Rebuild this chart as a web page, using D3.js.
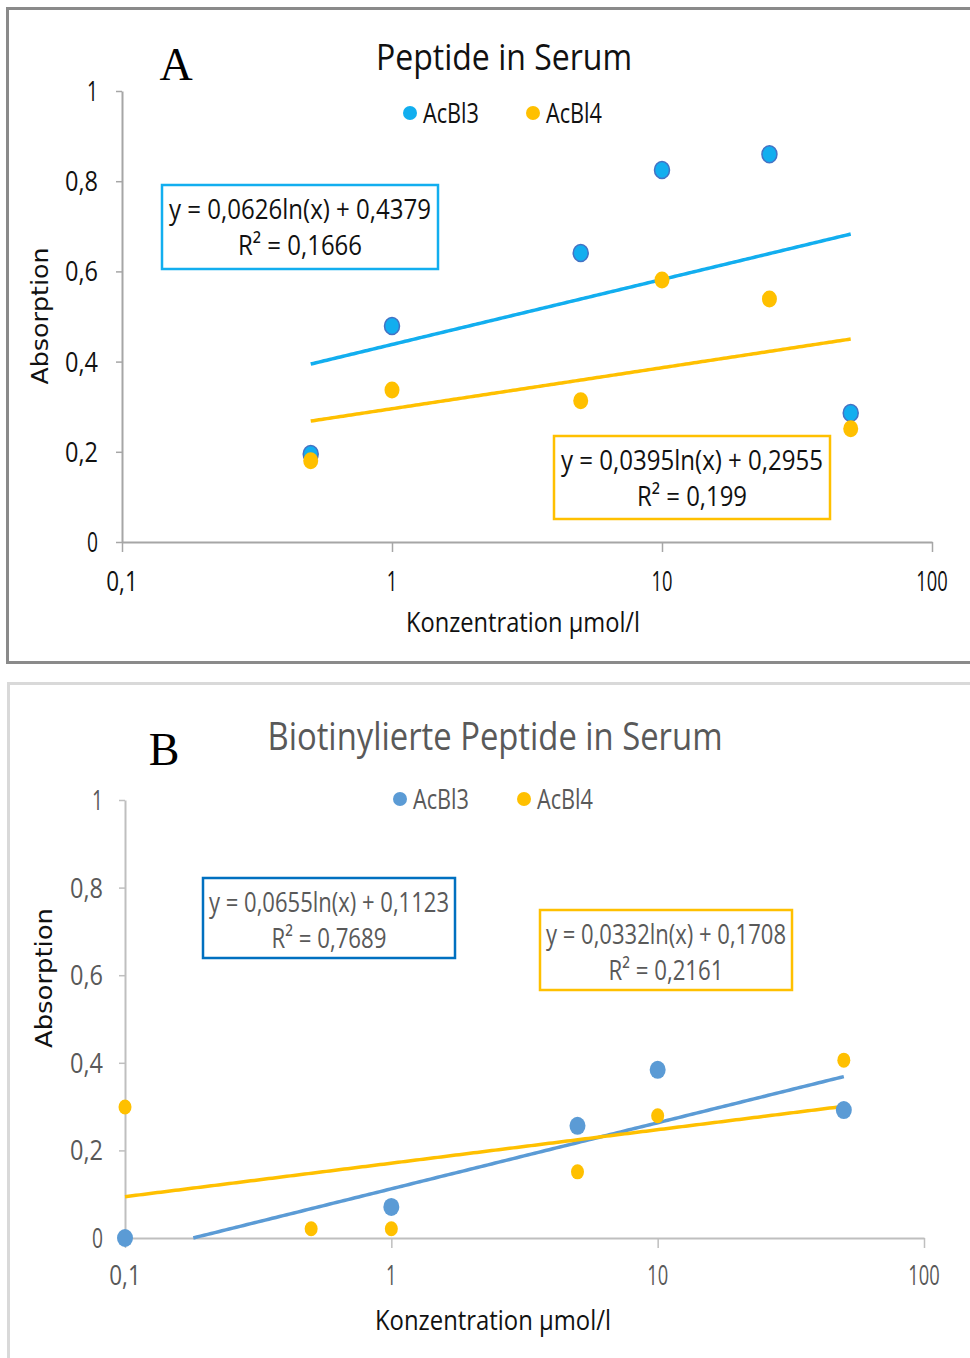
<!DOCTYPE html>
<html><head><meta charset="utf-8">
<script src="https://cdn.jsdelivr.net/npm/d3@7"></script>
<style>body{margin:0;background:#fff}svg{display:block}</style>
</head><body>
<svg id="c" width="970" height="1358"></svg>
<script>
// ---------- data ----------
const xTickValues = [0.1, 1, 10, 100];
const xTickLabels = ["0,1", "1", "10", "100"];
const yTickValues = [0, 0.2, 0.4, 0.6, 0.8, 1];
const yTickLabels = ["0", "0,2", "0,4", "0,6", "0,8", "1"];
const seriesNames = ["AcBl3", "AcBl4"];

// Panel A: Peptide in Serum
const concA3 = [0.5, 1, 5, 10, 25, 50];
const acbl3A = [0.195, 0.479, 0.641, 0.825, 0.860, 0.286];
const concA4 = [0.5, 1, 5, 10, 25, 50];
const acbl4A = [0.180, 0.337, 0.313, 0.581, 0.539, 0.251];
const trendA3 = {a: 0.0626, b: 0.4379, from: 0.5, to: 50, eq: "y = 0,0626ln(x) + 0,4379", r2: "R² = 0,1666"};
const trendA4 = {a: 0.0395, b: 0.2955, from: 0.5, to: 50, eq: "y = 0,0395ln(x) + 0,2955", r2: "R² = 0,199"};

// Panel B: Biotinylierte Peptide in Serum
const concB3 = [0.1, 1, 5, 10, 50];
const acbl3B = [0.0, 0.071, 0.256, 0.384, 0.292];
const concB4 = [0.1, 0.5, 1, 5, 10, 50];
const acbl4B = [0.299, 0.021, 0.021, 0.151, 0.279, 0.406];
const trendB3 = {a: 0.0655, b: 0.1123, from: 0.1, to: 50, eq: "y = 0,0655ln(x) + 0,1123", r2: "R² = 0,7689"};
const trendB4 = {a: 0.0332, b: 0.1708, from: 0.1, to: 50, eq: "y = 0,0332ln(x) + 0,1708", r2: "R² = 0,2161"};

const svg = d3.select("#c");
const NARROW = "'Liberation Sans Narrow', 'Arial Narrow', 'Open Sans', sans-serif";

function txt(g, x, y, s, o) {
  const t = g.append("text").attr("x", x).attr("y", y).text(s)
    .attr("font-family", o.ff || NARROW).attr("font-size", o.fs)
    .attr("fill", o.fill || "#000").attr("text-anchor", o.anchor || "middle");
  if (o.len) t.attr("textLength", o.len).attr("lengthAdjust", "spacingAndGlyphs");
  if (o.rot) t.attr("transform", `rotate(-90,${x},${y})`);
  return t;
}

function panel(cfg) {
  const g = svg.append("g");
  // frame
  g.append("rect").attr("x", cfg.frame[0]).attr("y", cfg.frame[1])
    .attr("width", cfg.frame[2]).attr("height", cfg.frame[3])
    .attr("fill", "none").attr("stroke", cfg.frameColor).attr("stroke-width", 3);

  const x = d3.scaleLog().domain([0.1, 100]).range([cfg.x0, cfg.x1]);
  const y = d3.scaleLinear().domain([0, 1]).range([cfg.y0, cfg.y1]);

  // axes
  const xa = g.append("g").attr("transform", `translate(0,${cfg.y0})`)
    .call(d3.axisBottom(x).tickValues(xTickValues).tickFormat("").tickSizeInner(10).tickSizeOuter(0));
  const ya = g.append("g").attr("transform", `translate(${cfg.x0},0)`)
    .call(d3.axisLeft(y).tickValues(yTickValues).tickFormat("").tickSizeInner(6).tickSizeOuter(0));
  [xa, ya].forEach(a => {
    a.select(".domain").attr("stroke", cfg.axisColor).attr("stroke-width", 2);
    a.selectAll(".tick line").attr("stroke", cfg.axisColor).attr("stroke-width", 1.5);
  });
  xTickValues.forEach((v, i) => txt(g, x(v), cfg.xLabelY, xTickLabels[i], {fs: 27, fill: cfg.tickColor, len: xTickLabels[i].length * 10.5}));
  yTickValues.forEach((v, i) => txt(g, cfg.yLabelX, y(v) + 10, yTickLabels[i], {fs: 27, fill: cfg.tickColor, anchor: "end", len: yTickLabels[i].length * 11}));

  // titles
  txt(g, cfg.title[0], cfg.title[1], cfg.title[2], {fs: cfg.title[3], fill: cfg.titleColor, len: cfg.title[4]});
  txt(g, cfg.letter[0], cfg.letter[1], cfg.letter[2], {fs: 46, ff: "'Liberation Serif','Times New Roman',serif"});
  txt(g, cfg.xTitle[0], cfg.xTitle[1], "Konzentration µmol/l", {fs: 28, fill: "#111", len: cfg.xTitle[2]});
  txt(g, cfg.yTitle[0], cfg.yTitle[1], "Absorption", {fs: 23, ff: "'DejaVu Sans', sans-serif", fill: "#111", rot: true, len: cfg.yTitle[2]});

  // legend
  cfg.legend.forEach((L, i) => {
    g.append("circle").attr("cx", L[0]).attr("cy", L[1]).attr("r", 7).attr("fill", cfg.colors[i]);
    txt(g, L[0] + 13, L[1] + 10, seriesNames[i], {fs: 27, fill: cfg.legendColor, anchor: "start", len: 56});
  });

  // trend lines
  const line = d3.line().x(d => x(d[0])).y(d => y(d[1]));
  cfg.trends.forEach((t, i) => {
    const pts = d3.range(0, 201).map(k => {
      const xv = Math.exp(Math.log(t.from) + (Math.log(t.to) - Math.log(t.from)) * k / 200);
      return [xv, t.a * Math.log(xv) + t.b];
    }).filter(p => p[1] >= 0);
    g.append("path").datum(pts).attr("d", line).attr("fill", "none")
      .attr("stroke", cfg.colors[i]).attr("stroke-width", 3.5);
  });

  // points
  cfg.series.forEach((s, i) => {
    g.selectAll(null).data(s.xs.map((v, k) => [v, s.ys[k]])).enter().append("ellipse")
      .attr("cx", d => x(d[0])).attr("cy", d => y(d[1])).attr("rx", s.r).attr("ry", s.r + 1)
      .attr("fill", cfg.colors[i])
      .attr("stroke", s.stroke || "none").attr("stroke-width", 1.5);
  });

  // equation boxes
  cfg.boxes.forEach((b, i) => {
    g.append("rect").attr("x", b[0]).attr("y", b[1]).attr("width", b[2]).attr("height", b[3])
      .attr("fill", "none").attr("stroke", cfg.boxColors[i]).attr("stroke-width", 2.5);
    const t = cfg.trends[i];
    const cx = b[0] + b[2] / 2;
    txt(g, cx, b[1] + 34, t.eq, {fs: 28, fill: cfg.eqColor, len: b[5]});
    txt(g, cx, b[1] + 70, t.r2, {fs: 28, fill: cfg.eqColor, len: b[6]});
  });
}

panel({
  frame: [7.5, 8.5, 975, 654], frameColor: "#8a8a8a",
  x0: 122, x1: 932, y0: 542, y1: 91,
  axisColor: "#a6a6a6", tickColor: "#111", xLabelY: 591, yLabelX: 98,
  title: [504, 70, "Peptide in Serum", 37, 256], titleColor: "#111",
  letter: [176, 80, "A"],
  xTitle: [523, 632, 234], yTitle: [48, 316, 137],
  legend: [[410, 113], [533, 113]], legendColor: "#111",
  colors: ["#12AEEF", "#FFC000"],
  trends: [trendA3, trendA4],
  series: [{xs: concA3, ys: acbl3A, r: 7.5, stroke: "#4472C4"}, {xs: concA4, ys: acbl4A, r: 7.5}],
  boxes: [[162, 185, 276, 84, 0, 262, 124], [554, 436, 276, 83, 0, 262, 110]],
  boxColors: ["#12AEEF", "#FFC000"], eqColor: "#111"
});

panel({
  frame: [8.5, 683.5, 975, 700], frameColor: "#d9d9d9",
  x0: 125, x1: 924, y0: 1238, y1: 800,
  axisColor: "#bfbfbf", tickColor: "#595959", xLabelY: 1285, yLabelX: 103,
  title: [495, 750, "Biotinylierte Peptide in Serum", 38, 455], titleColor: "#595959",
  letter: [164, 765, "B"],
  xTitle: [493, 1330, 236], yTitle: [52, 978, 140],
  legend: [[400, 799], [524, 799]], legendColor: "#595959",
  colors: ["#5B9BD5", "#FFC000"],
  trends: [trendB3, trendB4],
  series: [{xs: concB3, ys: acbl3B, r: 8}, {xs: concB4, ys: acbl4B, r: 6.5}],
  boxes: [[203, 878, 252, 80, 0, 240, 115], [540, 910, 252, 80, 0, 240, 115]],
  boxColors: ["#0070C0", "#FFC000"], eqColor: "#595959"
});
</script>
</body></html>
